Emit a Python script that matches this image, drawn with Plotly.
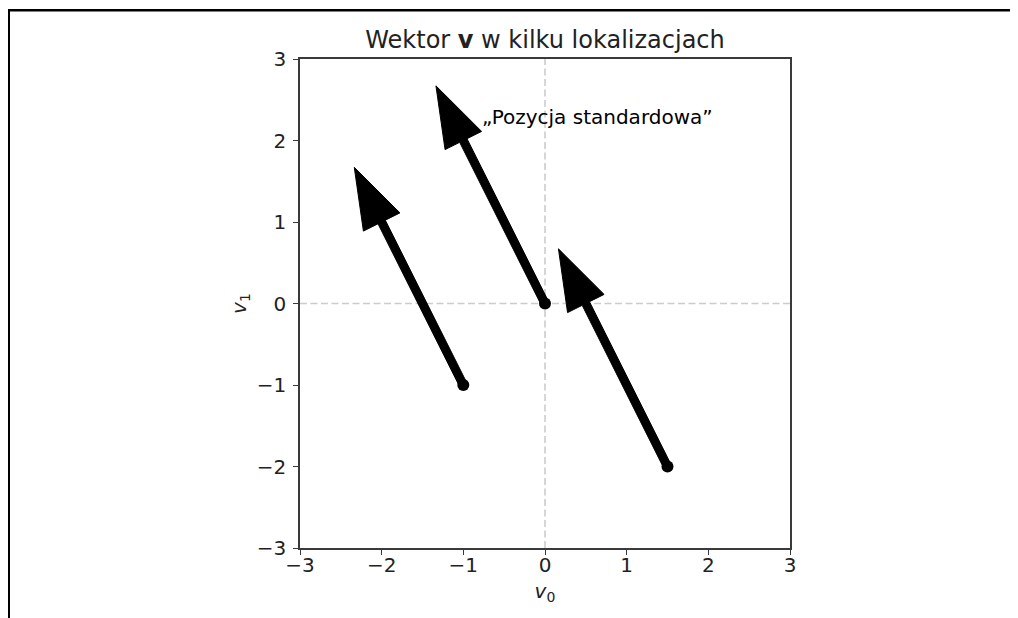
import numpy as np
import plotly.graph_objects as go

# Data
vector_v = [-1, 2]
start_x = [0, -1, 1.5]
start_y = [0, -1, -2]
axis_ticks = [-3, -2, -1, 0, 1, 2, 3]
title_text = "Wektor <b>v</b> w kilku lokalizacjach"
note_text = "„Pozycja standardowa”"
note_pos = [-0.8, 2.29]

# Arrow geometry (matplotlib-like FancyArrow)
shaft_w = 0.1
head_w = 0.5
head_l = 0.75

W, H = 1018, 618
OFF = 8  # page body margin
L_PX, R_PX, T_PX, B_PX = 300 - OFF, 790 - OFF, 59 - OFF, 548 - OFF

fig = go.Figure()

dash_style = "7px,3.5px"
fig.add_trace(go.Scatter(x=[-3, 3], y=[0, 0], mode="lines",
                         line=dict(color="rgb(204,204,204)", dash=dash_style, width=1.6),
                         hoverinfo="skip", showlegend=False))
fig.add_trace(go.Scatter(x=[0, 0], y=[-3, 3], mode="lines",
                         line=dict(color="rgb(204,204,204)", dash=dash_style, width=1.6),
                         hoverinfo="skip", showlegend=False))

v = np.array(vector_v, dtype=float)
d = v / np.linalg.norm(v)
p = np.array([-d[1], d[0]])
L = np.linalg.norm(v) + head_l
for sx, sy in zip(start_x, start_y):
    s = np.array([sx, sy])
    local = [(0, shaft_w / 2), (L - head_l, shaft_w / 2), (L - head_l, head_w / 2),
             (L, 0), (L - head_l, -head_w / 2), (L - head_l, -shaft_w / 2),
             (0, -shaft_w / 2), (0, shaft_w / 2)]
    pts = np.array([s + a * d + b * p for a, b in local])
    fig.add_trace(go.Scatter(x=pts[:, 0], y=pts[:, 1], mode="lines", fill="toself",
                             fillcolor="black", line=dict(color="black", width=1),
                             hoverinfo="skip", showlegend=False))

fig.add_trace(go.Scatter(x=start_x, y=start_y, mode="markers",
                         marker=dict(color="black", size=12),
                         hoverinfo="skip", showlegend=False))

fig.add_annotation(x=note_pos[0], y=note_pos[1], text=note_text, showarrow=False,
                   xanchor="left", yanchor="middle",
                   font=dict(family="DejaVu Sans", size=20, color="black"))

axis_common = dict(range=[-3, 3], tickvals=axis_ticks, showgrid=False, zeroline=False,
                   showline=True, mirror=True, linecolor="#3a3a3a", linewidth=1.5,
                   ticks="outside", ticklen=5, tickwidth=1.2, tickcolor="#3a3a3a",
                   tickfont=dict(family="DejaVu Sans", size=20, color="#222222"))

fig.update_layout(
    width=W, height=H,
    margin=dict(l=L_PX, r=W - R_PX, t=T_PX, b=H - B_PX),
    paper_bgcolor="white", plot_bgcolor="white",
    title=dict(text=title_text, x=0.5 * (L_PX + R_PX) / W, xanchor="center",
               y=1 - (40 - OFF) / H, yanchor="middle",
               font=dict(family="DejaVu Sans", size=24, color="#222222")),
    xaxis=dict(**axis_common, ticklabelstandoff=-7,
               title=dict(text="<i>v</i><sub>0</sub>", standoff=8,
                          font=dict(family="DejaVu Sans", size=20, color="#222222"))),
    yaxis=dict(**axis_common, ticklabelstandoff=3,
               title=dict(text="<i>v</i><sub>1</sub>", standoff=5,
                          font=dict(family="DejaVu Sans", size=20, color="#222222"))),
)

def px_to_paper_x(px):
    return (px - OFF - L_PX) / (R_PX - L_PX)

def px_to_paper_y(py):
    return (B_PX - (py - OFF)) / (B_PX - T_PX)

# page frame lines (top and left)
fig.add_shape(type="line", xref="paper", yref="paper",
              x0=px_to_paper_x(7), x1=px_to_paper_x(1030), y0=px_to_paper_y(10.3), y1=px_to_paper_y(10.3),
              line=dict(color="black", width=2.5))
fig.add_shape(type="line", xref="paper", yref="paper",
              x0=px_to_paper_x(8.5), x1=px_to_paper_x(8.5), y0=px_to_paper_y(9), y1=px_to_paper_y(640),
              line=dict(color="black", width=3))

fig.write_html("out.html")
